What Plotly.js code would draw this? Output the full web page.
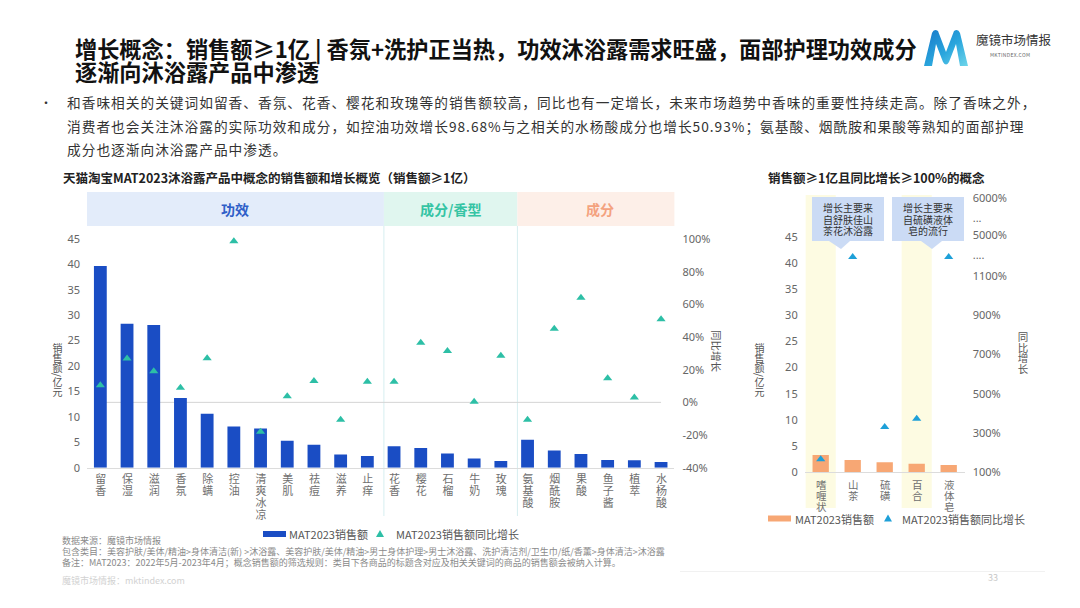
<!DOCTYPE html>
<html lang="zh-CN">
<head>
<meta charset="utf-8">
<title>增长概念：销售额≥1亿</title>
<script src="https://cdn.plot.ly/plotly-3.0.1.min.js"></script>
<style>
  html, body { margin: 0; padding: 0; background: #fff; }
  #page { position: relative; width: 1080px; height: 608px; overflow: hidden;
          font-family: "Noto Sans CJK SC", "Noto Sans", sans-serif; }
  #chart { position: absolute; left: 0; top: 0; width: 1080px; height: 608px; }
  .t { position: absolute; white-space: nowrap; }
  .vert { position: absolute; writing-mode: vertical-rl; text-orientation: mixed;
          font-size: 10px; color: #555; line-height: 1; }
  .cat { position: absolute; writing-mode: vertical-rl; text-orientation: upright;
         line-height: 1; color: #6f6f6f; white-space: nowrap; }
  .callout { position: absolute; width: 72px; text-align: center; font-size: 10px;
             line-height: 11.5px; color: #333; }
  .foot { position: absolute; white-space: nowrap; font-size: 9px; color: #8a8a8a; line-height: 1; }
</style>
</head>
<body>
<div id="page">
  <div id="chart"></div>

  <div class="t" style="left:75px;top:37px;font-size:22.2px;line-height:23px;font-weight:700;color:#111;">增长概念：销售额≥1亿 | 香氛+洗护正当热，功效沐浴露需求旺盛，面部护理功效成分</div>
  <div class="t" style="left:75px;top:60px;font-size:22.2px;line-height:23px;font-weight:700;color:#111;">逐渐向沐浴露产品中渗透</div>

  <svg style="position:absolute;left:922px;top:28px" width="48" height="40" viewBox="0 0 48 40">
    <defs>
      <linearGradient id="mk" x1="0" y1="0" x2="1" y2="1">
        <stop offset="0" stop-color="#1677c9"/>
        <stop offset="0.55" stop-color="#2aa6dd"/>
        <stop offset="1" stop-color="#6fd6ea"/>
      </linearGradient>
    </defs>
    <path d="M2,38 L10,5 Q12,0 16,3 L24,24 L32,3 Q36,0 38,5 L46,38 L38,38 L34,16 L27,34 Q24,39 21,34 L14,16 L10,38 Z" fill="url(#mk)"/>
  </svg>
  <div class="t" style="left:976px;top:32px;font-size:12.5px;color:#333;line-height:16px;">魔镜市场情报</div>
  <div class="t" style="left:990px;top:52px;font-size:5px;color:#666;letter-spacing:0.3px;line-height:6px;">MKTINDEX.COM</div>

  <div class="t" style="left:40px;top:91px;font-size:12px;line-height:23.5px;color:#333;">•</div>
  <div class="t" style="left:67px;top:91px;font-size:13.7px;line-height:23.5px;letter-spacing:1px;color:#333;">
    和香味相关的关键词如留香、香氛、花香、樱花和玫瑰等的销售额较高，同比也有一定增长，未来市场趋势中香味的重要性持续走高。除了香味之外，<br>消费者也会关注沐浴露的实际功效和成分，如控油功效增长98.68%与之相关的水杨酸成分也增长50.93%；氨基酸、烟酰胺和果酸等熟知的面部护理<br>成分也逐渐向沐浴露产品中渗透。
  </div>

  <div class="vert" style="left:52px;top:343px;">销售额/亿元</div>
  <div class="vert" style="left:754px;top:343px;">销售额/亿元</div>
  <div class="vert" style="left:1017px;top:332px;font-size:10.5px;">同比增长</div>

  <div class="foot" style="left:62px;top:536px;">数据来源：魔镜市场情报</div>
  <div class="foot" style="left:62px;top:547px;">包含类目：美容护肤/美体/精油&gt;身体清洁(新) &gt;沐浴露、美容护肤/美体/精油&gt;男士身体护理&gt;男士沐浴露、洗护清洁剂/卫生巾/纸/香薰&gt;身体清洁&gt;沐浴露</div>
  <div class="foot" style="left:62px;top:558px;">备注：MAT2023：2022年5月-2023年4月；概念销售额的筛选规则：类目下各商品的标题含对应及相关关键词的商品的销售额会被纳入计算。</div>
  <div class="foot" style="left:62px;top:576px;color:#d2d2d2;">魔镜市场情报：mktindex.com</div>
  <div class="foot" style="left:988px;top:573px;color:#c8c8c8;">33</div>
  <div style="position:absolute;left:680px;top:571px;width:365px;height:1px;background:#f1f1f1;"></div>
</div>

<script>
// ---- Left chart: concepts with MAT2023 sales >= 100M CNY ----
const leftCategories = ['留香', '保湿', '滋润', '香氛', '除螨', '控油', '清爽冰凉', '美肌', '祛痘', '滋养', '止痒',
                        '花香', '樱花', '石榴', '牛奶', '玫瑰',
                        '氨基酸', '烟酰胺', '果酸', '鱼子酱', '植萃', '水杨酸'];
// MAT2023 sales, 100M CNY
const leftSales = [39.7, 28.3, 28.1, 13.7, 10.6, 8.1, 7.7, 5.3, 4.5, 2.6, 2.3,
                   4.2, 3.9, 2.8, 1.8, 1.3,
                   5.5, 3.4, 2.7, 1.5, 1.45, 1.1];
// MAT2023 sales year-on-year growth, %
const leftGrowth = [10.4, 26.9, 19.0, 9.0, 27.0, 98.68, -18.0, 3.7, 13.0, -10.6, 12.6,
                    12.6, 36.5, 31.4, 0.4, 28.5,
                    -10.6, 45.0, 64.0, 14.7, 3.0, 50.93];
const groupNames = ['功效', '成分/香型', '成分'];
const groupSizes = [11, 5, 6];
const salesTicks = [0, 5, 10, 15, 20, 25, 30, 35, 40, 45];
const leftGrowthTicks = [-40, -20, 0, 20, 40, 60, 80, 100];

// ---- Right chart: sales >= 100M CNY and growth >= 100% ----
const rightCategories = ['嗜喱状', '山茶', '硫磺', '百合', '液体皂'];
const rightSales = [3.3, 2.35, 1.9, 1.65, 1.4];
// growth in % on the broken axis (山茶 / 液体皂 sit in the break above 1100%)
const rightGrowth = [167, 1195, 331, 373, 1195];
const rightHighlight = ['嗜喱状', '百合'];
const calloutTexts = ['增长主要来<br>自舒肤佳山<br>茶花沐浴露', '增长主要来<br>自硫磺液体<br>皂的流行'];
const rightGrowthTickVals = [100, 300, 500, 700, 900, 1100, 1206, 1308, 1395, 1493];
const rightGrowthTickText = ['100%', '300%', '500%', '700%', '900%', '1100%', '....', '5000%', '...', '6000%'];

// pixel -> paper helpers for the 1080x608 canvas
const W = 1080, H = 608;
const X = x => x / W;
const Y = y => 1 - y / H;

const tickFont = { family: '"Noto Sans", "Noto Sans CJK SC", sans-serif', size: 11, color: '#666' };
const cjk = '"Noto Sans CJK SC", sans-serif';

const BLUE = '#1a4dc4', TEAL = '#2dbfa6', ORANGE = '#f7a774', CYAN = '#1ea0d8';

const traces = [
  { type: 'bar', x: leftCategories, y: leftSales, xaxis: 'x', yaxis: 'y',
    marker: { color: BLUE }, width: 0.48, name: 'MAT2023销售额', showlegend: false, hoverinfo: 'skip' },
  { type: 'scatter', mode: 'markers', x: leftCategories, y: leftGrowth, xaxis: 'x', yaxis: 'y2',
    marker: { symbol: 'triangle-up', size: 8, color: TEAL }, name: 'MAT2023销售额同比增长', showlegend: false, hoverinfo: 'skip' },
  { type: 'bar', x: rightCategories, y: rightSales, xaxis: 'x2', yaxis: 'y3',
    marker: { color: ORANGE }, width: 0.51, name: 'MAT2023销售额', showlegend: false, hoverinfo: 'skip' },
  { type: 'scatter', mode: 'markers', x: rightCategories, y: rightGrowth, xaxis: 'x2', yaxis: 'y4',
    marker: { symbol: 'triangle-up', size: 8, color: CYAN }, name: 'MAT2023销售额同比增长', showlegend: false, hoverinfo: 'skip' }
];

const shapes = [];
const annotations = [];

// group header bands above the left chart
const bandFill = ['#e3ecfa', '#e0f6ef', '#fdefe8'];
const bandText = ['#2f5fc8', '#35c4a4', '#f4a27f'];
const sepShift = 0.12;
let start = 0;
const bounds = [-0.5];
groupSizes.forEach((n, i) => {
  start += n;
  bounds.push(i === groupSizes.length - 1 ? start - 0.5 + 0.3 : start - 0.5 + sepShift);
});
groupNames.forEach((g, i) => {
  shapes.push({ type: 'rect', layer: 'below', xref: 'x', yref: 'paper',
    x0: bounds[i], x1: bounds[i + 1], y0: Y(226), y1: Y(192), fillcolor: bandFill[i], line: { width: 0 } });
  annotations.push({ xref: 'x', yref: 'paper', x: (bounds[i] + bounds[i + 1]) / 2, y: Y(209),
    xanchor: 'center', yanchor: 'middle',
    text: '<b>' + g + '</b>', showarrow: false, font: { family: cjk, size: 14, color: bandText[i] } });
});
// separators between groups
for (let i = 1; i < groupNames.length; i++) {
  shapes.push({ type: 'line', layer: 'below', xref: 'x', yref: 'paper', x0: bounds[i], x1: bounds[i],
    y0: Y(226), y1: Y(516), line: { color: '#d6eef0', width: 1 } });
}
// 0% reference line of the growth axis
shapes.push({ type: 'line', layer: 'below', xref: 'x', yref: 'y2', x0: 0, x1: leftCategories.length - 1,
  y0: 0, y1: 0, line: { color: '#d4d4d4', width: 1 } });

// highlighted columns in the right chart
rightHighlight.forEach(c => {
  const i = rightCategories.indexOf(c);
  shapes.push({ type: 'rect', layer: 'below', xref: 'x2', yref: 'paper', x0: i - 0.47, x1: i + 0.47,
    y0: Y(508), y1: Y(195), fillcolor: '#fdfbe2', line: { width: 0 } });
});

// callout boxes with a pointer towards the marker below
const calloutBoxes = [
  { x0: 812, x1: 884, tipX: 841, baseA: 829, baseB: 850 },
  { x0: 892, x1: 964, tipX: 932, baseA: 921, baseB: 942 }
];
calloutBoxes.forEach(b => {
  const top = 197, bot = 241, tipY = 249;
  const d = `M${X(b.x0)},${Y(top)} L${X(b.x1)},${Y(top)} L${X(b.x1)},${Y(bot)} L${X(b.baseB)},${Y(bot)} ` +
            `L${X(b.tipX)},${Y(tipY)} L${X(b.baseA)},${Y(bot)} L${X(b.x0)},${Y(bot)} Z`;
  shapes.push({ type: 'path', xref: 'paper', yref: 'paper', path: d, fillcolor: '#cbdbf5', line: { width: 0 } });
});

// chart titles
annotations.push({ xref: 'paper', yref: 'paper', x: X(61), y: Y(177), xanchor: 'left', yanchor: 'middle',
  text: '<b>天猫淘宝MAT2023沐浴露产品中概念的销售额和增长概览（销售额≥1亿）</b>', showarrow: false,
  font: { family: cjk, size: 12.5, color: '#222' } });
annotations.push({ xref: 'paper', yref: 'paper', x: X(766), y: Y(177), xanchor: 'left', yanchor: 'middle',
  text: '<b>销售额≥1亿且同比增长≥100%的概念</b>', showarrow: false,
  font: { family: cjk, size: 12.5, color: '#222' } });

// growth axis title of the left chart
annotations.push({ xref: 'paper', yref: 'paper', x: X(717), y: Y(351), xanchor: 'center', yanchor: 'middle',
  text: '同比增长', textangle: 90, showarrow: false, font: { family: cjk, size: 10.5, color: '#555' } });

// legends
function legend(rectX, y, barColor, triX, triColor, label1X, label2X) {
  shapes.push({ type: 'rect', xref: 'paper', yref: 'paper', x0: X(rectX), x1: X(rectX + 23),
    y0: Y(y + 3), y1: Y(y - 3), fillcolor: barColor, line: { width: 0 } });
  shapes.push({ type: 'path', xref: 'paper', yref: 'paper',
    path: `M${X(triX - 4)},${Y(y + 3)} L${X(triX + 4)},${Y(y + 3)} L${X(triX)},${Y(y - 4)} Z`,
    fillcolor: triColor, line: { width: 0 } });
  annotations.push({ xref: 'paper', yref: 'paper', x: X(label1X), y: Y(y), xanchor: 'left', yanchor: 'middle',
    text: traces[0].name, showarrow: false, font: { family: cjk, size: 11, color: '#555' } });
  annotations.push({ xref: 'paper', yref: 'paper', x: X(label2X), y: Y(y), xanchor: 'left', yanchor: 'middle',
    text: traces[1].name, showarrow: false, font: { family: cjk, size: 11, color: '#555' } });
}
legend(263, 534, BLUE, 380, TEAL, 287, 394);
legend(768, 518.5, ORANGE, 888, CYAN, 793, 900);

const layout = {
  width: W, height: H,
  margin: { l: 0, r: 0, t: 0, b: 0 },
  paper_bgcolor: 'rgba(0,0,0,0)', plot_bgcolor: 'rgba(0,0,0,0)',
  showlegend: false,
  xaxis: {
    domain: [X(87), X(674.4)], anchor: 'y', type: 'category', range: [-0.5, leftCategories.length - 0.5],
    showticklabels: false, showline: true, linecolor: '#dcdcdc', linewidth: 1, ticks: '', showgrid: false,
    fixedrange: true
  },
  yaxis: {
    domain: [Y(467.7), Y(230)], anchor: 'x', range: [0, 46.77],
    tickvals: salesTicks, tickfont: tickFont, showgrid: false, zeroline: false, showline: false,
    ticks: '', ticklabelstandoff: 6, fixedrange: true
  },
  yaxis2: {
    overlaying: 'y', side: 'right', anchor: 'x', range: [-40, 105.5],
    tickvals: leftGrowthTicks, ticktext: leftGrowthTicks.map(v => v + '%'), tickfont: tickFont,
    showgrid: false, zeroline: false, showline: false, ticks: '', ticklabelstandoff: 7, fixedrange: true
  },
  xaxis2: {
    domain: [X(804.7), X(964.7)], anchor: 'y3', type: 'category', range: [-0.5, rightCategories.length - 0.5],
    showticklabels: false, showline: true, linecolor: '#dcdcdc', linewidth: 1, ticks: '', showgrid: false,
    fixedrange: true
  },
  yaxis3: {
    domain: [Y(472.3), Y(195)], anchor: 'x2', range: [0, 52.96],
    tickvals: salesTicks, tickfont: tickFont, showgrid: false, zeroline: false, showline: false,
    ticks: '', ticklabelstandoff: 6, fixedrange: true
  },
  yaxis4: {
    overlaying: 'y3', side: 'right', anchor: 'x2', range: [100, 1511],
    tickvals: rightGrowthTickVals, ticktext: rightGrowthTickText, tickfont: tickFont,
    showgrid: false, zeroline: false, showline: false, ticks: '', ticklabelstandoff: 7, fixedrange: true
  },
  shapes: shapes,
  annotations: annotations
};

const page = document.getElementById('page');

// category names written vertically under each bar, placed with the axis scale
function placeCategoryLabels(ax, cats, top, size, spacing) {
  cats.forEach((c, i) => {
    const d = document.createElement('div');
    d.className = 'cat';
    d.textContent = c;
    d.style.fontSize = size + 'px';
    d.style.letterSpacing = spacing + 'px';
    d.style.top = top + 'px';
    page.appendChild(d);
    const cx = ax._offset + ax.l2p(i);
    d.style.left = (cx - d.offsetWidth / 2) + 'px';
  });
}

// callout text inside the boxes
function placeCallouts() {
  calloutBoxes.forEach((b, i) => {
    const d = document.createElement('div');
    d.className = 'callout';
    d.innerHTML = calloutTexts[i];
    d.style.left = b.x0 + 'px';
    d.style.top = '202px';
    page.appendChild(d);
  });
}

Plotly.newPlot('chart', traces, layout, { displayModeBar: false, staticPlot: true }).then(gd => {
  const fl = gd._fullLayout;
  placeCategoryLabels(fl.xaxis, leftCategories, 473, 11, 1);
  placeCategoryLabels(fl.xaxis2, rightCategories, 480, 10.5, 0.3);
  placeCallouts();
});
</script>
</body>
</html>
